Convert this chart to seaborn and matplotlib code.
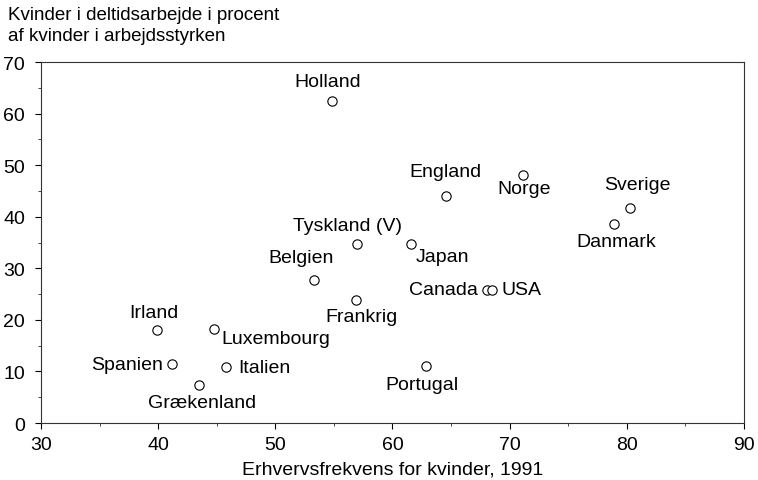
import matplotlib
matplotlib.use("Agg")
import matplotlib.pyplot as plt
import seaborn as sns
import pandas as pd
from matplotlib.ticker import MultipleLocator

countries = ["Holland", "England", "Norge", "Sverige", "Danmark", "Tyskland (V)",
             "Japan", "Belgien", "Canada", "USA", "Frankrig", "Irland",
             "Luxembourg", "Spanien", "Italien", "Grækenland", "Portugal"]
participation = [54.8, 64.6, 71.1, 80.3, 78.9, 57.0,
                 61.6, 53.3, 68.1, 68.5, 56.9, 39.9,
                 44.8, 41.2, 45.8, 43.5, 62.9]
parttime = [62.5, 44.1, 48.1, 41.6, 38.5, 34.7,
            34.7, 27.7, 25.8, 25.8, 23.9, 18.0,
            18.2, 11.4, 10.8, 7.4, 11.0]

# label offsets in points and alignment (style only)
label_style = {
    "Holland": (-3, 14, "center"),
    "England": (-1, 17, "center"),
    "Norge": (1, -10, "center"),
    "Sverige": (5, 17, "center"),
    "Danmark": (2, -12, "center"),
    "Tyskland (V)": (-7, 13, "center"),
    "Japan": (3, -9, "left"),
    "Belgien": (-9, 16, "center"),
    "Canada": (-7, 0, "right"),
    "USA": (7, 0, "left"),
    "Frankrig": (4, -12, "center"),
    "Irland": (-2, 13, "center"),
    "Luxembourg": (5, -7, "left"),
    "Spanien": (-7, 0, "right"),
    "Italien": (9, 0, "left"),
    "Grækenland": (2, -13, "center"),
    "Portugal": (-3, -13, "center"),
}

df = pd.DataFrame({"land": countries, "x": participation, "y": parttime})

sns.set_theme(style="white")
plt.rcParams["font.family"] = ["Liberation Sans", "DejaVu Sans"]

fig = plt.figure(figsize=(7.58, 4.81), dpi=100)
ax = fig.add_axes([0.0541, 0.1185, 0.9274, 0.7505])

sns.scatterplot(data=df, x="x", y="y", ax=ax, s=45, facecolor="white",
                edgecolor="black", linewidth=0.8, zorder=3)

for name, x, y in zip(countries, participation, parttime):
    dx, dy, ha = label_style[name]
    ax.annotate(name, (x, y), xytext=(dx, dy), textcoords="offset points",
                ha=ha, va="center", fontsize=14, color="black")

ax.set_xlim(30, 90)
ax.set_ylim(0, 70)
ax.xaxis.set_major_locator(MultipleLocator(10))
ax.xaxis.set_minor_locator(MultipleLocator(5))
ax.yaxis.set_major_locator(MultipleLocator(10))
ax.yaxis.set_minor_locator(MultipleLocator(5))
ax.tick_params(which="major", direction="out", length=4, width=0.8,
               labelsize=14, colors="black", bottom=True, left=True)
ax.tick_params(axis="x", which="major", pad=5)
ax.tick_params(axis="y", which="major", pad=7.5)
ax.tick_params(which="minor", direction="out", length=2, width=0.6,
               bottom=True, left=True)
for sp in ax.spines.values():
    sp.set_visible(True)
    sp.set_color("#333333")
    sp.set_linewidth(0.8)

ax.set_xlabel("Erhvervsfrekvens for kvinder, 1991", fontsize=14, color="black", labelpad=6)
ax.set_ylabel("")
fig.text(0.011, 0.985, "Kvinder i deltidsarbejde i procent\naf kvinder i arbejdsstyrken",
         ha="left", va="top", fontsize=13.5, color="black", linespacing=1.3)

fig.savefig("out.png", dpi=100)
